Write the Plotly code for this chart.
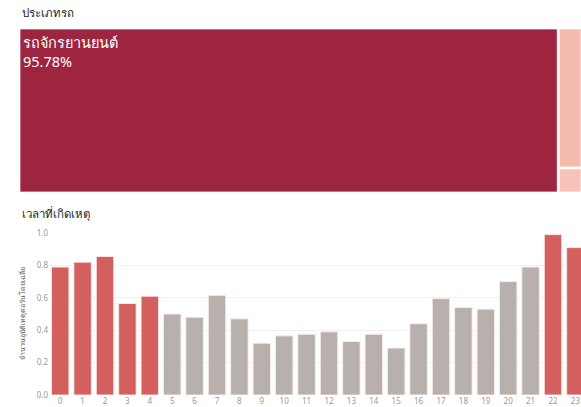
import plotly.graph_objects as go

# Treemap data
vehicle_types = ["รถจักรยานยนต์", "รถยนต์", "อื่นๆ"]
vehicle_share = [95.78, 3.58, 0.64]
vehicle_colors = ["#9E2540", "#F5BCAE", "#F7C3B6"]

# Bar data
hours = list(range(24))
hour_labels = [str(h) for h in hours]
avg_accidents = [0.79, 0.82, 0.855, 0.565, 0.61, 0.50, 0.48, 0.615, 0.47, 0.32,
                 0.365, 0.375, 0.39, 0.33, 0.375, 0.29, 0.44, 0.595, 0.54, 0.53,
                 0.70, 0.79, 0.99, 0.91]
highlight_hours = [0, 1, 2, 3, 4, 22, 23]
RED = "#D45F5F"
GRAY = "#B8B0AD"
bar_colors = [RED if h in highlight_hours else GRAY for h in hours]

W, H = 581, 407
def py(px):
    return 1 - px / H

fig = go.Figure()

fig.add_trace(go.Treemap(
    labels=vehicle_types,
    parents=["", "", ""],
    values=vehicle_share,
    sort=False,
    marker=dict(colors=vehicle_colors,
                line=dict(color="rgba(255,255,255,0.7)", width=1),
                pad=dict(t=0, l=0, r=0, b=0)),
    texttemplate=["%{label}<br>%{value:.2f}%", "", ""],
    textposition="top left",
    textfont=dict(color="white", size=14.5, family="Noto Sans, sans-serif"),
    tiling=dict(packing="squarify", pad=2),
    pathbar=dict(visible=False),
    domain=dict(x=[20 / W, 1.0], y=[py(192), py(29)]),
    hoverinfo="skip",
))

fig.add_trace(go.Bar(
    x=hours,
    y=avg_accidents,
    marker=dict(color=bar_colors, line=dict(color="rgba(255,235,235,0.9)", width=1)),
    width=0.78,
    xaxis="x",
    yaxis="y",
    hoverinfo="skip",
))

fig.update_layout(
    width=W, height=H,
    margin=dict(l=0, r=0, t=0, b=0, autoexpand=False),
    paper_bgcolor="white",
    plot_bgcolor="white",
    showlegend=False,
    font=dict(family="Noto Sans, sans-serif", color="#333"),
    xaxis=dict(
        domain=[49 / W, 1.0],
        anchor="y",
        range=[-0.5, 23.25],
        tickvals=hours,
        ticktext=hour_labels,
        tickfont=dict(size=8, color="#999"),
        showgrid=False,
        zeroline=False,
        showline=False,
        ticks="",
        automargin=False,
    ),
    yaxis=dict(
        domain=[py(395), py(233)],
        anchor="x",
        range=[0, 1.0],
        tickvals=[0, 0.2, 0.4, 0.6, 0.8, 1.0],
        tickformat=".1f",
        tickfont=dict(size=8, color="#999"),
        showgrid=True,
        gridcolor="#F0F0F0",
        zeroline=False,
        showline=False,
        ticks="",
        automargin=False,
        title=dict(text="จำนวนอุบัติเหตุต่อวันโดยเฉลี่ย", font=dict(size=7, color="#555"), standoff=10),
    ),
    annotations=[
        dict(text="ประเภทรถ", x=20 / W, y=py(12), xref="paper", yref="paper",
             xanchor="left", yanchor="middle", showarrow=False,
             font=dict(size=11.5, color="#222")),
        dict(text="เวลาที่เกิดเหตุ", x=20 / W, y=py(213), xref="paper", yref="paper",
             xanchor="left", yanchor="middle", showarrow=False,
             font=dict(size=11.5, color="#222")),
    ],
)

fig.write_html("out.html")
